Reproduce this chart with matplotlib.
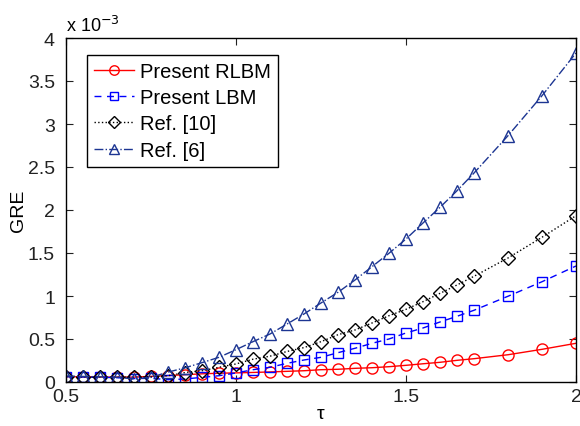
import matplotlib
matplotlib.use("Agg")
import matplotlib.pyplot as plt
import numpy as np

plt.rcParams['font.family'] = ['Liberation Sans', 'DejaVu Sans']

# relaxation time values
tau = [0.50, 0.55, 0.60, 0.65, 0.70, 0.75, 0.80, 0.85, 0.90, 0.95,
       1.00, 1.05, 1.10, 1.15, 1.20, 1.25, 1.30, 1.35, 1.40, 1.45,
       1.50, 1.55, 1.60, 1.65, 1.70, 1.80, 1.90, 2.00]

# global relative error, in units of 1e-3
gre_rlbm = [0.062, 0.060, 0.058, 0.057, 0.057, 0.065, 0.075, 0.085, 0.095, 0.102,
            0.106, 0.111, 0.117, 0.124, 0.131, 0.143, 0.148, 0.159, 0.166, 0.178,
            0.194, 0.212, 0.229, 0.252, 0.271, 0.317, 0.380, 0.450]
gre_lbm = [0.062, 0.058, 0.055, 0.050, 0.040, 0.043, 0.027, 0.035, 0.054, 0.073,
           0.105, 0.143, 0.171, 0.217, 0.256, 0.287, 0.341, 0.392, 0.450, 0.500,
           0.570, 0.628, 0.698, 0.764, 0.834, 0.997, 1.166, 1.349]
gre_ref10 = [0.062, 0.060, 0.058, 0.056, 0.055, 0.060, 0.073, 0.110, 0.131, 0.171,
             0.210, 0.265, 0.300, 0.355, 0.400, 0.469, 0.550, 0.605, 0.686, 0.771,
             0.845, 0.934, 1.031, 1.128, 1.229, 1.442, 1.683, 1.934]
gre_ref6 = [0.070, 0.065, 0.060, 0.055, 0.035, 0.054, 0.115, 0.165, 0.225, 0.287,
            0.376, 0.469, 0.558, 0.674, 0.791, 0.919, 1.043, 1.186, 1.341, 1.497,
            1.663, 1.849, 2.031, 2.224, 2.430, 2.864, 3.329, 3.826]

labels = ['Present RLBM', 'Present LBM', 'Ref. [10]', 'Ref. [6]']
xticks = [0.5, 1, 1.5, 2]
yticks = [0, 0.5, 1, 1.5, 2, 2.5, 3, 3.5, 4]

fig = plt.figure(figsize=(5.8, 4.27), dpi=100)
ax = fig.add_axes([66/580, 44/427, 510/580, 344/427])

ax.plot(tau, gre_rlbm, color='#ff0000', ls='-', lw=1.0, marker='o', ms=8,
        mfc='none', mec='#ff0000', mew=1.0, label=labels[0])
ax.plot(tau, gre_lbm, color='#0000ff', ls='--', lw=1.0, marker='s', ms=7,
        mfc='none', mec='#0000ff', mew=1.0, label=labels[1], dashes=(5, 4))
ax.plot(tau, gre_ref10, color='black', ls=':', lw=1.0, marker='D', ms=7,
        mfc='none', mec='black', mew=1.0, label=labels[2])
ax.plot(tau, gre_ref6, color='#1c3592', ls='-.', lw=1.0, marker='^', ms=9,
        mfc='none', mec='#1c3592', mew=1.0, label=labels[3])

ax.set_xlim(0.5, 2)
ax.set_ylim(0, 4)
ax.set_xticks(xticks)
ax.set_xticklabels(['0.5', '1', '1.5', '2'])
ax.set_yticks(yticks)
ax.set_yticklabels(['0', '0.5', '1', '1.5', '2', '2.5', '3', '3.5', '4'])
ax.tick_params(direction='in', length=5, width=0.8, labelsize=14,
               top=True, right=True, colors='#222222')
ax.tick_params(axis='x', pad=4)
ax.tick_params(axis='y', pad=8)
for sp in ax.spines.values():
    sp.set_linewidth(1.0)
    sp.set_color('black')

ax.set_xlabel('τ', fontsize=14, labelpad=0)
ax.set_ylabel('GRE', fontsize=14)
ax.yaxis.set_label_coords(-0.076, 0.5)
ax.text(0.0, 1.01, r'x 10$^{-3}$', transform=ax.transAxes, fontsize=13,
        ha='left', va='bottom')

leg = ax.legend(loc='upper left', bbox_to_anchor=(0.041, 0.951), fontsize=14.5,
                handlelength=2.0, numpoints=1, fancybox=False, framealpha=1,
                borderpad=0.35, labelspacing=0.36, handletextpad=0.3,
                borderaxespad=0, markerscale=0.85)
leg.get_frame().set_edgecolor('black')
leg.get_frame().set_linewidth(1.0)

fig.savefig('out.png', dpi=100)
